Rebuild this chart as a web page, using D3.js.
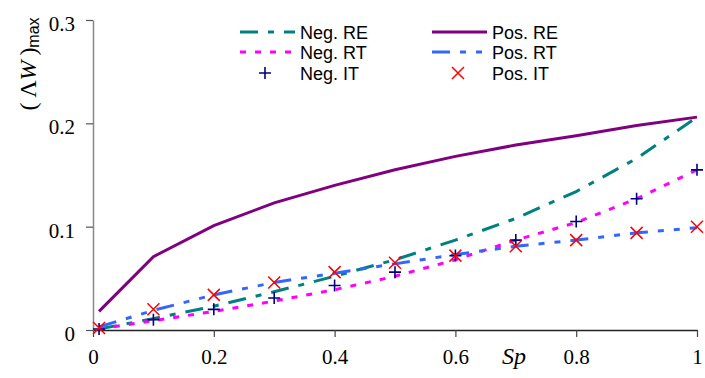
<!DOCTYPE html>
<html>
  <head>
    <meta charset="utf-8">
    <title>Lambda W max vs Sp</title>
    <style>
      body { margin: 0; background: #fff; }
      svg { display: block; }
    </style>
  </head>
  <body>
    <script src="https://d3js.org/d3.v7.min.js"></script>
    <script type="text/javascript">
      // values
      var sp = [0.01, 0.1, 0.2, 0.3, 0.4, 0.5, 0.6, 0.7, 0.8, 0.9, 1.0];
      var negRE = [0.001, 0.011, 0.023, 0.037, 0.052, 0.068, 0.087, 0.108, 0.134, 0.166, 0.206];
      var posRE = [0.018, 0.071, 0.101, 0.123, 0.140, 0.155, 0.168, 0.179, 0.188, 0.198, 0.206];
      var negRT = [0.001, 0.009, 0.018, 0.028, 0.039, 0.052, 0.068, 0.087, 0.104, 0.127, 0.155];
      var posRT = [0.003, 0.019, 0.034, 0.046, 0.055, 0.064, 0.073, 0.081, 0.087, 0.094, 0.099];
      var negIT = [0.001, 0.010, 0.020, 0.031, 0.043, 0.056, 0.072, 0.087, 0.105, 0.127, 0.155];
      var posIT = [0.002, 0.020, 0.034, 0.046, 0.056, 0.065, 0.072, 0.081, 0.087, 0.094, 0.100];
      var xTicks = [0, 0.2, 0.4, 0.6, 0.8, 1];
      var yTicks = [0, 0.1, 0.2, 0.3];

      var w = 705, h = 378;
      var svg = d3.select('body').append('svg').attr('width', w).attr('height', h);

      var xScale = d3.scaleLinear().domain([0, 1]).range([93, 697]);
      var yScale = d3.scaleLinear().domain([0, 0.3]).range([330, 20]);

      var fmt = function(d) { return (d === 0 || d === 1) ? String(d) : d.toFixed(1); };

      var gx = svg.append('g')
        .attr('transform', 'translate(0,' + yScale(0) + ')')
        .call(d3.axisBottom(xScale).tickValues(xTicks).tickFormat(fmt).tickSize(7).tickSizeOuter(0).tickPadding(12));
      gx.select('.domain').attr('stroke', '#222').attr('stroke-width', 1.5);
      gx.selectAll('.tick line').attr('stroke', '#444').attr('stroke-width', 1.2);
      gx.selectAll('text').attr('font-family', 'Liberation Serif, Times New Roman, serif')
        .attr('font-size', '21px').attr('fill', '#000');

      var gy = svg.append('g')
        .attr('transform', 'translate(' + xScale(0) + ',0)')
        .call(d3.axisLeft(yScale).tickValues(yTicks).tickFormat(fmt).tickSize(7).tickSizeOuter(0).tickPadding(11));
      gy.select('.domain').attr('stroke', '#888').attr('stroke-width', 1.5);
      gy.selectAll('.tick line').attr('stroke', '#555').attr('stroke-width', 1.2);
      gy.selectAll('text').attr('font-family', 'Liberation Serif, Times New Roman, serif')
        .attr('font-size', '21px').attr('fill', '#000').attr('dy', '0.5em');

      // series
      var series = [
        { name: 'Neg. RE', vals: negRE, color: '#008080', dash: '18,10,6,10' },
        { name: 'Neg. RT', vals: negRT, color: '#ff00ff', dash: '6,9' },
        { name: 'Pos. RE', vals: posRE, color: '#800080', dash: null },
        { name: 'Pos. RT', vals: posRT, color: '#3366ff', dash: '18,10,6,10,6,10' }
      ];

      var line = d3.line()
        .x(function(d, i) { return xScale(sp[i]); })
        .y(function(d) { return yScale(d); });

      svg.selectAll('path.series')
        .data(series)
        .enter()
        .append('path')
        .attr('class', 'series')
        .attr('d', function(s) { return line(s.vals); })
        .attr('fill', 'none')
        .attr('stroke', function(s) { return s.color; })
        .attr('stroke-width', 3)
        .attr('stroke-dasharray', function(s) { return s.dash; });

      function plus(g, x, y, r) {
        g.append('path').attr('d', 'M' + (x - r) + ',' + y + 'H' + (x + r) + 'M' + x + ',' + (y - r) + 'V' + (y + r))
          .attr('stroke', '#000080').attr('stroke-width', 1.6).attr('fill', 'none');
      }
      function cross(g, x, y, r) {
        g.append('path').attr('d', 'M' + (x - r) + ',' + (y - r) + 'L' + (x + r) + ',' + (y + r) +
            'M' + (x - r) + ',' + (y + r) + 'L' + (x + r) + ',' + (y - r))
          .attr('stroke', '#ff0000').attr('stroke-width', 1.5).attr('fill', 'none');
      }

      var marks = svg.append('g');
      negIT.forEach(function(d, i) { plus(marks, xScale(sp[i]), yScale(d), 6); });
      posIT.forEach(function(d, i) { cross(marks, xScale(sp[i]), yScale(d), 6); });

      // legend
      var leg = svg.append('g').attr('font-family', 'Liberation Sans, Arial, sans-serif').attr('font-size', '18px');
      var legRows = [
        { s: series[0], x: 240, y: 32 },
        { s: series[1], x: 240, y: 52 },
        { s: { name: 'Neg. IT', marker: 'plus' }, x: 240, y: 73 },
        { s: series[2], x: 432, y: 32 },
        { s: series[3], x: 432, y: 52 },
        { s: { name: 'Pos. IT', marker: 'cross' }, x: 432, y: 73 }
      ];
      legRows.forEach(function(r) {
        if (r.s.marker === 'plus') {
          plus(leg, r.x + 25, r.y, 6);
        } else if (r.s.marker === 'cross') {
          cross(leg, r.x + 26, r.y, 6);
        } else {
          leg.append('line').attr('x1', r.x).attr('x2', r.x + 55).attr('y1', r.y).attr('y2', r.y)
            .attr('stroke', r.s.color).attr('stroke-width', 3).attr('stroke-dasharray', r.s.dash);
        }
        leg.append('text').attr('x', r.x + 60).attr('y', r.y + 6.5).attr('fill', '#000').text(r.s.name);
      });

      // axis titles
      svg.append('text')
        .attr('x', 514).attr('y', 364)
        .attr('text-anchor', 'middle')
        .attr('font-family', 'Liberation Serif, Times New Roman, serif')
        .attr('font-size', '24px').attr('font-style', 'italic')
        .text('Sp');

      var yl = svg.append('text')
        .attr('transform', 'translate(36,64) rotate(-90)')
        .attr('text-anchor', 'middle')
        .attr('font-family', 'Liberation Serif, Times New Roman, serif')
        .attr('font-size', '24px');
      yl.append('tspan').text('(\u2009\u039b');
      yl.append('tspan').attr('font-style', 'italic').text('W');
      yl.append('tspan').text('\u2009)');
      yl.append('tspan').attr('font-family', 'Liberation Sans, Arial, sans-serif').attr('font-size', '16px')
        .attr('dy', '3').text('max');
    </script>
  </body>
</html>
